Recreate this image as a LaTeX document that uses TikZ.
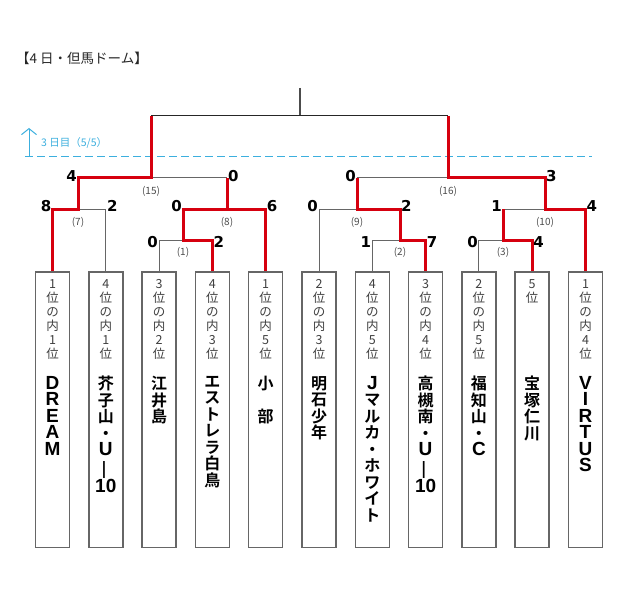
\documentclass[tikz,border=0pt]{standalone}
\usepackage{fontspec}
\usepackage{tikz}
\usetikzlibrary{arrows.meta, positioning}
\newfontfamily\jp{Noto Sans CJK JP}
\newfontfamily\jpb{Noto Sans CJK JP Bold}
\newfontfamily\latb{Liberation Sans}
\newfontfamily\dejavu{DejaVu Sans}
\newcommand\latn[1]{{\latb\bfseries\fontsize{19}{16.5}\selectfont #1}}
\newcommand\tatebar{\rotatebox[origin=c]{90}{\latb\bfseries\fontsize{17}{16.5}\selectfont —}}
\definecolor{winred}{RGB}{214,0,15}
\definecolor{daysky}{RGB}{60,175,222}

\begin{document}
\begin{tikzpicture}[
    x=1pt, y=-1pt,
    teambox/.style={rectangle, draw=black!60, line width=1.5pt, fill=white, minimum width=34pt, minimum height=275.5pt, inner sep=0pt},
    rank/.style={align=center, inner sep=0pt, text=black!75, font=\jp\fontsize{12.5}{14}\selectfont},
    teamname/.style={align=center, inner sep=0pt, font=\jpb\fontsize{16}{16.5}\selectfont},
    score/.style={inner sep=1pt, font=\dejavu\bfseries\fontsize{15}{15}\selectfont},
    matchno/.style={inner sep=0pt, text=black!70, font=\jp\fontsize{10}{10}\selectfont},
    win/.style={draw=winred, line width=3pt},
    lose/.style={draw=black!60, line width=1pt}
]
    \useasboundingbox (0,0) rectangle (625,610);

    % 見出し
    \node[anchor=west, inner sep=0pt, text=black!85, font=\jp\fontsize{13.5}{13.5}\selectfont] (title) at (16,58) {【4 日・但馬ドーム】};

    % 3日目の区切り
    \coordinate (dashL) at (25,157);
    \coordinate (dashR) at (592,157);
    \coordinate (arrowfoot) at (29,157);
    \coordinate (arrowtip) at (29,128);
    \draw[daysky, line width=1pt, dash pattern=on 8pt off 4pt] (dashL) -- (dashR);
    \draw[daysky, line width=1pt, -{Straight Barb[length=6pt, width=15pt]}] (arrowfoot) -- (arrowtip);
    \node[anchor=west, inner sep=0pt, text=daysky, font=\jp\fontsize{10.5}{10.5}\selectfont] (day3) at (41,143) {3 日目（5/5）};

    % チーム枠
    \node[teambox] (t1) at (52.5,409.5) {};
    \node[teambox, right=17.8pt of t1] (t2) {};
    \node[teambox, right=17.8pt of t2] (t3) {};
    \node[teambox, right=17.8pt of t3] (t4) {};
    \node[teambox, right=17.8pt of t4] (t5) {};
    \node[teambox, right=17.8pt of t5] (t6) {};
    \node[teambox, right=17.8pt of t6] (t7) {};
    \node[teambox, right=17.8pt of t7] (t8) {};
    \node[teambox, right=17.8pt of t8] (t9) {};
    \node[teambox, right=17.8pt of t9] (t10) {};
    \node[teambox, right=17.8pt of t10] (t11) {};

    % 順位
    \node[rank, below=8.5pt of t1.north] (r1) {1\\位\\の\\内\\1\\位};
    \node[rank, below=8.5pt of t2.north] (r2) {4\\位\\の\\内\\1\\位};
    \node[rank, below=8.5pt of t3.north] (r3) {3\\位\\の\\内\\2\\位};
    \node[rank, below=8.5pt of t4.north] (r4) {4\\位\\の\\内\\3\\位};
    \node[rank, below=8.5pt of t5.north] (r5) {1\\位\\の\\内\\5\\位};
    \node[rank, below=8.5pt of t6.north] (r6) {2\\位\\の\\内\\3\\位};
    \node[rank, below=8.5pt of t7.north] (r7) {4\\位\\の\\内\\5\\位};
    \node[rank, below=8.5pt of t8.north] (r8) {3\\位\\の\\内\\4\\位};
    \node[rank, below=8.5pt of t9.north] (r9) {2\\位\\の\\内\\5\\位};
    \node[rank, below=8.5pt of t10.north] (r10) {5\\位};
    \node[rank, below=8.5pt of t11.north] (r11) {1\\位\\の\\内\\4\\位};

    % チーム名
    \node[teamname, below=105pt of t1.north] (n1) {\latn{D}\\\latn{R}\\\latn{E}\\\latn{A}\\\latn{M}};
    \node[teamname, below=105pt of t2.north] (n2) {芥\\子\\山\\・\\\latn{U}\\\tatebar\\\latn{10}};
    \node[teamname, below=105pt of t3.north] (n3) {江\\井\\島};
    \node[teamname, below=105pt of t4.north] (n4) {エ\\ス\\ト\\レ\\ラ\\白\\鳥};
    \node[teamname, below=105pt of t5.north] (n5) {小\\　\\部};
    \node[teamname, below=105pt of t6.north] (n6) {明\\石\\少\\年};
    \node[teamname, below=105pt of t7.north] (n7) {\latn{J}\\マ\\ル\\カ\\・\\ホ\\ワ\\イ\\ト};
    \node[teamname, below=105pt of t8.north] (n8) {高\\槻\\南\\・\\\latn{U}\\\tatebar\\\latn{10}};
    \node[teamname, below=105pt of t9.north] (n9) {福\\知\\山\\・\\\latn{C}};
    \node[teamname, below=105pt of t10.north] (n10) {宝\\塚\\仁\\川};
    \node[teamname, below=105pt of t11.north] (n11) {\latn{V}\\\latn{I}\\\latn{R}\\\latn{T}\\\latn{U}\\\latn{S}};

    % 組み合わせの分岐点
    \coordinate (ftop) at (300,88);
    \coordinate (jf) at (300,116);
    \coordinate (j15) at (151,178);
    \coordinate (j7) at (78,209);
    \coordinate (j8) at (227,209);
    \coordinate (j1) at (183,240);
    \coordinate (j16) at (448,178);
    \coordinate (j9) at (357,209);
    \coordinate (j2) at (400,240);
    \coordinate (j10) at (545,209);
    \coordinate (j3) at (503,240);

    % 敗退側の線
    \draw[lose] (t2.north) |- (j7);
    \draw[lose] (j15) -- (j8 |- j15);
    \draw[lose] (t3.north) |- (j1);
    \draw[draw=black!70, line width=1.3pt] (ftop) -- (jf);
    \draw[draw=black!85, line width=1pt] (j15 |- jf) -- (j16 |- jf);
    \draw[lose] (j16) -- (j9 |- j16);
    \draw[lose] (t6.north) |- (j9);
    \draw[lose] (t7.north) |- (j2);
    \draw[lose] (j10) -- (j3 |- j10);
    \draw[lose] (t9.north) |- (j3);

    % 勝ち上がりの線
    \draw[win] (t1.north) |- (j7) |- (j15) -- (j15 |- jf);
    \draw[win] (t4.north) |- (j1) |- (j8) -- (j8 |- j15);
    \draw[win] (t5.north) |- (j8);
    \draw[win] (t8.north) |- (j2) |- (j9) -- (j9 |- j16);
    \draw[win] (t11.north) |- (j10) |- (j16) -- (j16 |- jf);
    \draw[win] (t10.north) |- (j3) -- (j3 |- j10);

    % 試合番号
    \node[matchno, below=8.5pt of j15] (m15) {(15)};
    \node[matchno, below=8.5pt of j7] (m7) {(7)};
    \node[matchno, below=8.5pt of j8] (m8) {(8)};
    \node[matchno, below=7pt of j1] (m1) {(1)};
    \node[matchno, below=8.5pt of j16] (m16) {(16)};
    \node[matchno, below=8.5pt of j9] (m9) {(9)};
    \node[matchno, below=7pt of j2] (m2) {(2)};
    \node[matchno, below=8.5pt of j10] (m10) {(10)};
    \node[matchno, below=7pt of j3] (m3) {(3)};

    % 得点
    \node[score, anchor=east, yshift=2pt] (s15a) at (j7 |- j15) {4};
    \node[score, anchor=west, yshift=2pt] (s15b) at (j8 |- j15) {0};
    \node[score, anchor=east, yshift=3pt] (s7a) at (t1.north |- j7) {8};
    \node[score, anchor=west, yshift=3pt] (s7b) at (t2.north |- j7) {2};
    \node[score, anchor=east, yshift=3pt] (s8a) at (j1 |- j8) {0};
    \node[score, anchor=west, yshift=3pt] (s8b) at (t5.north |- j8) {6};
    \node[score, anchor=east, yshift=-2pt] (s1a) at (t3.north |- j1) {0};
    \node[score, anchor=west, yshift=-2pt] (s1b) at (t4.north |- j1) {2};
    \node[score, anchor=east, yshift=2pt] (s16a) at (j9 |- j16) {0};
    \node[score, anchor=west, yshift=2pt] (s16b) at (j10 |- j16) {3};
    \node[score, anchor=east, yshift=3pt] (s9a) at (t6.north |- j9) {0};
    \node[score, anchor=west, yshift=3pt] (s9b) at (j2 |- j9) {2};
    \node[score, anchor=east, yshift=-2pt] (s2a) at (t7.north |- j2) {1};
    \node[score, anchor=west, yshift=-2pt] (s2b) at (t8.north |- j2) {7};
    \node[score, anchor=east, yshift=3pt] (s10a) at (j3 |- j10) {1};
    \node[score, anchor=west, yshift=3pt] (s10b) at (t11.north |- j10) {4};
    \node[score, anchor=east, yshift=-2pt] (s3a) at (t9.north |- j3) {0};
    \node[score, anchor=west, yshift=-2pt] (s3b) at (t10.north |- j3) {4};
\end{tikzpicture}
\end{document}
